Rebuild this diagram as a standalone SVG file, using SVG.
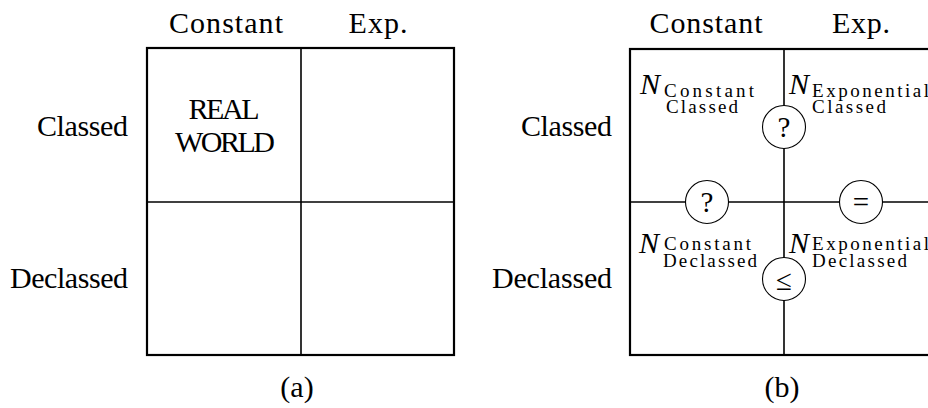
<svg xmlns="http://www.w3.org/2000/svg" width="928" height="408" viewBox="0 0 928 408">
<style>
text{font-family:"Liberation Serif","DejaVu Serif",serif;fill:#000}
.lbl{font-size:30px}
.n{font-size:30px;font-style:italic}
.sub{font-size:19px}
.sym{font-size:29px;text-anchor:middle}
.outer{fill:none;stroke:#000;stroke-width:2.2}
.inner{stroke:#000;stroke-width:1.6;fill:none}
.circ{fill:#fff;stroke:#000;stroke-width:1.1}
</style>
<rect width="928" height="408" fill="#fff"/>

<g id="panel-a">
  <text class="lbl" x="226" y="33" text-anchor="middle" textLength="114">Constant</text>
  <text class="lbl" x="378" y="33" text-anchor="middle" textLength="59">Exp.</text>
  <text class="lbl" x="128" y="136" text-anchor="end" textLength="91">Classed</text>
  <text class="lbl" x="128" y="288" text-anchor="end" textLength="118">Declassed</text>
  <g id="a-grid">
    <rect class="outer" x="147" y="48" width="307" height="307"/>
    <line class="inner" x1="301" y1="48" x2="301" y2="355"/>
    <line class="inner" x1="147" y1="202" x2="454" y2="202"/>
  </g>
  <g id="a-realworld">
    <text class="lbl" x="224" y="119" text-anchor="middle" textLength="71">REAL</text>
    <text class="lbl" x="225" y="152" text-anchor="middle" textLength="100">WORLD</text>
  </g>
  <text class="lbl" x="297" y="397" text-anchor="middle">(a)</text>
</g>

<g id="panel-b">
  <text class="lbl" x="706" y="33" text-anchor="middle" textLength="113">Constant</text>
  <text class="lbl" x="861" y="33" text-anchor="middle" textLength="58">Exp.</text>
  <text class="lbl" x="612" y="136" text-anchor="end" textLength="91">Classed</text>
  <text class="lbl" x="612" y="288" text-anchor="end" textLength="120">Declassed</text>

  <g id="connectors">
    <rect class="outer" x="630" y="49" width="310" height="306"/>
    <line class="inner" x1="784" y1="49" x2="784" y2="355"/>
    <line class="inner" x1="630" y1="202" x2="940" y2="202"/>
  </g>

  <g id="cell-constant-classed">
    <text class="n" x="640" y="94">N</text>
    <text class="sub" x="664" y="97" textLength="90">Constant</text>
    <text class="sub" x="666" y="113" textLength="72">Classed</text>
  </g>
  <g id="cell-exp-classed">
    <text class="n" x="789" y="94">N</text>
    <text class="sub" x="812" y="97" textLength="117">Exponential</text>
    <text class="sub" x="812" y="113" textLength="74">Classed</text>
  </g>
  <g id="cell-constant-declassed">
    <text class="n" x="639" y="253">N</text>
    <text class="sub" x="664" y="250" textLength="87">Constant</text>
    <text class="sub" x="663" y="267" textLength="94">Declassed</text>
  </g>
  <g id="cell-exp-declassed">
    <text class="n" x="789" y="253">N</text>
    <text class="sub" x="812" y="250" textLength="117">Exponential</text>
    <text class="sub" x="812" y="267" textLength="95">Declassed</text>
  </g>

  <g id="cmp-top">
    <circle class="circ" cx="784" cy="127" r="21.5"/>
    <text class="sym" x="784" y="137">?</text>
  </g>
  <g id="cmp-left">
    <circle class="circ" cx="707" cy="202" r="21.5"/>
    <text class="sym" x="707" y="212">?</text>
  </g>
  <g id="cmp-right">
    <circle class="circ" cx="861" cy="202" r="21.5"/>
    <text class="sym" x="861" y="212" font-size="32">=</text>
  </g>
  <g id="cmp-bottom">
    <circle class="circ" cx="784" cy="279" r="21.5"/>
    <text class="sym" x="784" y="290" font-size="32">≤</text>
  </g>

  <text class="lbl" x="782" y="397" text-anchor="middle">(b)</text>
</g>
</svg>
